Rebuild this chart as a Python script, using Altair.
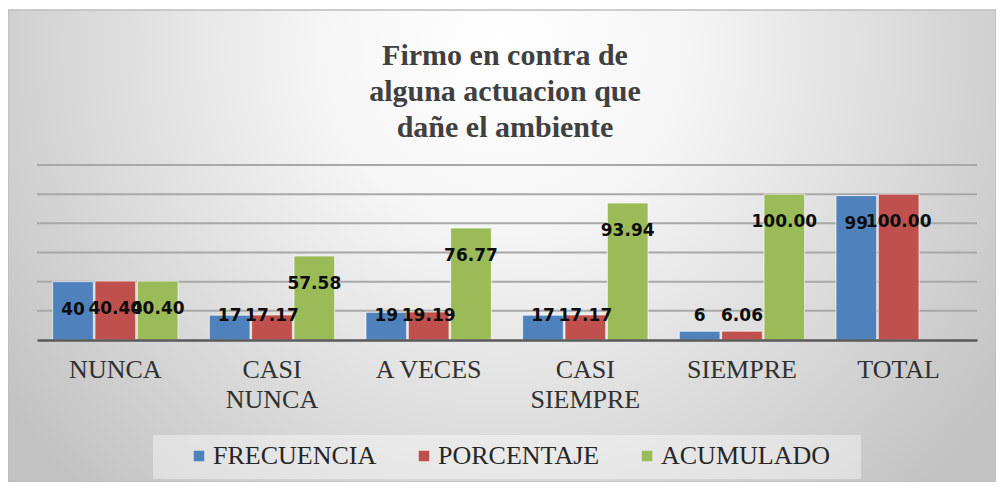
import altair as alt
import pandas as pd

# ---- data ----
categories = ["NUNCA", "CASI NUNCA", "A VECES", "CASI SIEMPRE", "SIEMPRE", "TOTAL"]
series = ["FRECUENCIA", "PORCENTAJE", "ACUMULADO"]
frecuencia = [40, 17, 19, 17, 6, 99]
porcentaje = [40.40, 17.17, 19.19, 17.17, 6.06, 100.00]
acumulado = [40.40, 57.58, 76.77, 93.94, 100.00, None]
grid_values = [20, 40, 60, 80, 100, 120]
colors = ["#4F81BD", "#C0504D", "#9BBB59"]
title_lines = ["Firmo en contra de", "alguna actuacion que", "dañe el ambiente"]

rows = []
for s, vals in zip(series, [frecuencia, porcentaje, acumulado]):
    for c, v in zip(categories, vals):
        if v is not None:
            rows.append({"categoria": c, "serie": s, "valor": v})
df = pd.DataFrame(rows)

W, H = 940, 175
PAD = {"left": 29, "top": 157, "right": 19, "bottom": 142}

yscale = alt.Scale(domain=[0, 120])

x_enc = alt.X(
    "categoria:N",
    sort=categories,
    scale=alt.Scale(paddingInner=0.2, paddingOuter=0.1),
    axis=alt.Axis(
        title=None,
        labelAngle=0,
        labelFont="Liberation Serif",
        labelFontSize=26,
        labelColor="#303030",
        labelPadding=16,
        labelLineHeight=30,
        labelLimit=300,
        labelOverlap=False,
        labelExpr="indexof(datum.label, 'CASI ') == 0 ? split(datum.label, ' ') : datum.label",
        ticks=False,
        tickSize=0,
        domainColor="#595959",
        domainWidth=2.5,
        zindex=1,
    ),
)
xoff_enc = alt.XOffset("serie:N", sort=series, scale=alt.Scale(paddingInner=0.04))

gradient = {
    "gradient": "radial",
    "x1": 0.5, "y1": 0.3, "r1": 0,
    "x2": 0.5, "y2": 0.3, "r2": 0.62,
    "stops": [
        {"offset": 0, "color": "#ffffff"},
        {"offset": 0.3, "color": "#f5f5f5"},
        {"offset": 1, "color": "#c2c2c2"},
    ],
}

one = alt.Data(values=[{"k": 1}])

bg = alt.Chart(one).mark_rect(fill=gradient, stroke="#bdbdbd", strokeWidth=1.5).encode(
    x=alt.value(-PAD["left"]), x2=alt.value(W + PAD["right"]),
    y=alt.value(-PAD["top"] + 2), y2=alt.value(H + PAD["bottom"]),
)

legend_box = alt.Chart(one).mark_rect(fill="#ffffff", opacity=0.4).encode(
    x=alt.value(116), x2=alt.value(824), y=alt.value(270), y2=alt.value(314),
)

title_text = alt.Chart(one).mark_text(
    text=title_lines,
    font="Liberation Serif",
    fontSize=30,
    fontWeight="bold",
    color="#404040",
    lineHeight=36,
    align="center",
    baseline="alphabetic",
).encode(x=alt.value(468), y=alt.value(-100))

grid = alt.Chart(pd.DataFrame({"g": grid_values})).mark_rule(
    color="#a8a8a8", strokeWidth=2
).encode(y=alt.Y("g:Q", scale=yscale, axis=None))

bars = alt.Chart(df).mark_bar(stroke="#ffffff", strokeWidth=0.8, strokeOpacity=0.8).encode(
    x=x_enc,
    xOffset=xoff_enc,
    y=alt.Y("valor:Q", scale=yscale, axis=None),
    color=alt.Color(
        "serie:N",
        sort=series,
        scale=alt.Scale(domain=series, range=colors),
        legend=alt.Legend(
            title=None,
            orient="none",
            legendX=149,
            legendY=278,
            direction="horizontal",
            columns=3,
            labelFont="Liberation Serif",
            labelFontSize=26,
            labelColor="#262626",
            labelLimit=400,
            symbolType="square",
            symbolSize=110,
            symbolStrokeWidth=0,
            labelOffset=1,
            columnPadding=34,
            padding=0,
        ),
    ),
)

labels = alt.Chart(df).transform_calculate(
    ly="max(datum.valor, 36)",
    txt="datum.serie == 'FRECUENCIA' ? format(datum.valor, 'd') : format(datum.valor, '.2f')",
).mark_text(
    font="DejaVu Sans", fontWeight="bold", fontSize=17, color="#0d0d0d", dy=28, baseline="middle"
).encode(
    x=x_enc,
    xOffset=xoff_enc,
    y=alt.Y("ly:Q", scale=yscale, axis=None),
    text="txt:N",
)

chart = alt.layer(bg, legend_box, title_text, grid, bars, labels).properties(
    width=W,
    height=H,
    autosize=alt.AutoSizeParams(type="none"),
    padding=PAD,
).configure_view(stroke=None).configure_legend(
    labelFont="Liberation Serif", labelFontSize=26, labelLimit=400
)

chart.save("out.html", embed_options={"renderer": "svg", "actions": False})
